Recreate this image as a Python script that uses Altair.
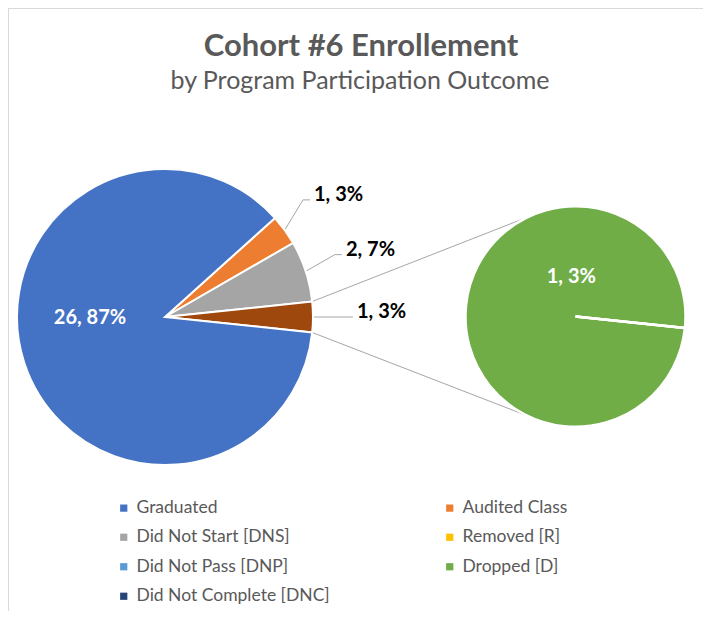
import math
import altair as alt
import pandas as pd

# ---------------- data ----------------
categories = ["Graduated", "Audited Class", "Did Not Start [DNS]", "Removed [R]",
              "Did Not Pass [DNP]", "Dropped [D]", "Did Not Complete [DNC]"]
counts = [26, 1, 2, 0, 0, 1, 0]
colors = ["#4472C4", "#ED7D31", "#A5A5A5", "#FFC000", "#5B9BD5", "#70AD47", "#264478"]
legend_order = ["Graduated", "Did Not Start [DNS]", "Did Not Pass [DNP]", "Did Not Complete [DNC]",
                "Audited Class", "Removed [R]", "Dropped [D]"]
main_order = ["Audited Class", "Did Not Start [DNS]", "Other", "Graduated"]
secondary_order = ["Dropped [D]", "Removed [R]", "Did Not Pass [DNP]", "Did Not Complete [DNC]"]
other_name = "Other"
other_color = "#9E480E"
title_text = "Cohort #6 Enrollement"
subtitle_text = "by Program Participation Outcome"

# ---------------- layout (page pixels) ----------------
W, H = 695, 603
OFF = 8
FONT = "Lato"
TXT = "#595959"
C1 = (165.0, 317.0); R1 = 148.0
C2 = (575.5, 316.5); R2 = 110.0
START1 = 48.0   # degrees, clockwise from 12 o'clock
START2 = 96.0

cnt = dict(zip(categories, counts))
total = sum(counts)
other_val = sum(cnt[c] for c in secondary_order)
main_vals = [other_val if c == other_name else cnt[c] for c in main_order]


def lab(v):
    return f"{v}, {round(100 * v / total)}%"


def pt(c, r, deg):
    a = math.radians(deg)
    return (c[0] + r * math.sin(a), c[1] - r * math.cos(a))


angles = {}
acc = START1
for c, v in zip(main_order, main_vals):
    a0 = acc
    a1 = acc + v / total * 360
    angles[c] = (a0, a1)
    acc = a1

main_df = pd.DataFrame({"cat": main_order, "value": main_vals, "ord": range(len(main_order))})
sec_df = pd.DataFrame({"cat": secondary_order, "value": [cnt[c] for c in secondary_order],
                       "ord": range(len(secondary_order))})

dom = legend_order + [other_name]
rng = [colors[categories.index(c)] for c in legend_order] + [other_color]
legend = alt.Legend(
    values=legend_order, orient="none", legendX=107, legendY=491, columns=2, title=None,
    symbolType="square", symbolSize=52, symbolStrokeWidth=0, labelFont=FONT,
    labelFontSize=17.5, labelColor=TXT, columnPadding=111, rowPadding=10.5, labelOffset=4,
    labelLimit=400,
)
color_scale = alt.Scale(domain=dom, range=rng)

main_pie = alt.Chart(main_df).mark_arc(outerRadius=R1, stroke="white", strokeWidth=2).encode(
    theta=alt.Theta("value:Q", stack=True,
                    scale=alt.Scale(range=[math.radians(START1), math.radians(START1) + 2 * math.pi])),
    order=alt.Order("ord:Q"),
    color=alt.Color("cat:N", scale=color_scale, legend=legend),
    x=alt.value(C1[0] - OFF), y=alt.value(C1[1] - OFF),
)
sec_pie = alt.Chart(sec_df).mark_arc(outerRadius=R2, stroke="white", strokeWidth=2.5).encode(
    theta=alt.Theta("value:Q", stack=True,
                    scale=alt.Scale(range=[math.radians(START2), math.radians(START2) + 2 * math.pi])),
    order=alt.Order("ord:Q"),
    color=alt.Color("cat:N", scale=color_scale, legend=legend),
    x=alt.value(C2[0] - OFF), y=alt.value(C2[1] - OFF),
)

segs = []
labels = []
for c in ["Audited Class", "Did Not Start [DNS]", other_name]:
    a0, a1 = angles[c]
    mid = (a0 + a1) / 2
    edge = pt(C1, R1, mid)
    elbow = pt(C1, 181, 90 - (90 - mid) * 1.12)
    tail = (elbow[0] + 7, elbow[1])
    segs.append((edge, elbow))
    segs.append((elbow, tail))
    v = main_vals[main_order.index(c)]
    labels.append((tail[0] + 4, tail[1] - 5, lab(v), "black"))

gx, gy = pt(C1, 75, 270)
labels.append((gx, gy + 1, lab(cnt["Graduated"]), "white"))
dx, dy = pt(C2, 40, 354)
labels.append((dx, dy, lab(cnt["Dropped [D]"]), "white"))

conn = []
oa0, oa1 = angles[other_name]
for ang, sgn in [(oa0, -1), (oa1, 1)]:
    p = pt(C1, R1, ang)
    ddx, ddy = C2[0] - p[0], C2[1] - p[1]
    d = math.hypot(ddx, ddy)
    th = math.atan2(ddy, ddx)
    al = math.asin(R2 / d)
    L = math.sqrt(d * d - R2 * R2)
    e = (p[0] + L * math.cos(th + sgn * al), p[1] + L * math.sin(th + sgn * al))
    conn.append((p, e))

X = lambda f: alt.X(f, type="quantitative", scale=alt.Scale(domain=[0, W], range=[0, W]), axis=None)
Y = lambda f: alt.Y(f, type="quantitative", scale=alt.Scale(domain=[0, H], range=[0, H]), axis=None)

seg_df = pd.DataFrame([{"x": a[0] - OFF, "y": a[1] - OFF, "x2": b[0] - OFF, "y2": b[1] - OFF} for a, b in segs])
conn_df = pd.DataFrame([{"x": a[0] - OFF, "y": a[1] - OFF, "x2": b[0] - OFF, "y2": b[1] - OFF} for a, b in conn])

leaders = alt.Chart(seg_df).mark_rule(color="#A6A6A6", strokeWidth=1).encode(
    x=X("x"), y=Y("y"), x2="x2", y2="y2")
connectors = alt.Chart(conn_df).mark_rule(color="#A6A6A6", strokeWidth=1).encode(
    x=X("x"), y=Y("y"), x2="x2", y2="y2")

lab_df = pd.DataFrame([{"x": x - OFF, "y": y - OFF, "t": t, "c": c} for x, y, t, c in labels])
out_lab = alt.Chart(lab_df[lab_df.c == "black"]).mark_text(
    font=FONT, fontSize=20, fontWeight="bold", align="left", baseline="middle", color="black"
).encode(x=X("x"), y=Y("y"), text="t:N")
in_lab = alt.Chart(lab_df[lab_df.c == "white"]).mark_text(
    font=FONT, fontSize=20, fontWeight="bold", align="center", baseline="middle", color="white"
).encode(x=X("x"), y=Y("y"), text="t:N")

tdf = pd.DataFrame({"t": [title_text]})
sdf = pd.DataFrame({"t": [subtitle_text]})
title = alt.Chart(tdf).mark_text(font=FONT, fontSize=31, fontWeight="bold", color=TXT,
                                 align="center", baseline="alphabetic").encode(
    x=alt.value(361 - OFF), y=alt.value(56 - OFF), text="t:N")
subtitle = alt.Chart(sdf).mark_text(font=FONT, fontSize=25, color=TXT,
                                    align="center", baseline="alphabetic").encode(
    x=alt.value(360 - OFF), y=alt.value(89 - OFF), text="t:N")

frame = alt.Chart(pd.DataFrame({"k": [0]})).mark_rule(color="#D9D9D9", strokeWidth=1).encode(
    x=alt.value(0.5), x2=alt.value(0.5), y=alt.value(0), y2=alt.value(H))
frame2 = alt.Chart(pd.DataFrame({"k": [0]})).mark_rule(color="#D9D9D9", strokeWidth=1).encode(
    x=alt.value(0), x2=alt.value(W), y=alt.value(0.5), y2=alt.value(0.5))

chart = alt.layer(
    frame, frame2, connectors, leaders, main_pie, sec_pie, out_lab, in_lab, title, subtitle
).resolve_scale(theta="independent").properties(
    width=W, height=H, padding=0, autosize="none", background="white"
).configure_view(stroke=None)

chart.save("out.html", embed_options={"renderer": "svg", "actions": False})
